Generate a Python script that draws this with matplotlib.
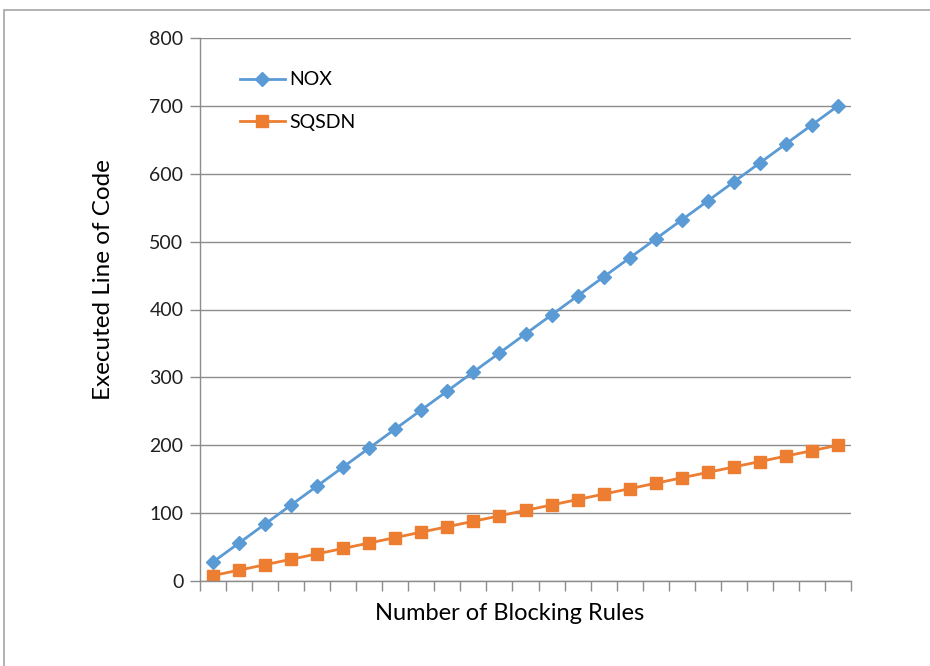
import matplotlib
matplotlib.use("Agg")
import matplotlib.pyplot as plt
from matplotlib.patches import Rectangle

# Executed lines of code per number of blocking rules
rules = list(range(1, 26))
nox = [28, 56, 84, 112, 140, 168, 196, 224, 252, 280, 308, 336, 364,
       392, 420, 448, 476, 504, 532, 560, 588, 616, 644, 672, 700]
sqsdn = [8, 16, 24, 32, 40, 48, 56, 64, 72, 80, 88, 96, 104,
         112, 120, 128, 136, 144, 152, 160, 168, 176, 184, 192, 200]
yticks = [0, 100, 200, 300, 400, 500, 600, 700, 800]

BLUE = "#5B9BD5"
ORANGE = "#ED7D31"
GRID = "#8C8C8C"
FONT = "Lato"

W, H = 930, 666
fig = plt.figure(figsize=(W / 100, H / 100), dpi=100)
fig.patch.set_facecolor("white")

# chart border
fig.patches.append(Rectangle((4 / W, -0.1), 1.2, (H - 10) / H + 0.1,
                             transform=fig.transFigure, fill=False,
                             edgecolor="#A6A6A6", linewidth=1.2))

ax = fig.add_axes([200 / W, 1 - 581 / H, 651 / W, (581 - 38) / H])
x = list(range(len(rules)))
ax.plot(x, nox, color=BLUE, marker="D", markersize=7, linewidth=2,
        label="NOX")
ax.plot(x, sqsdn, color=ORANGE, marker="s", markersize=8.5, linewidth=2,
        label="SQSDN")

ax.set_xlim(-0.5, len(rules) - 0.5)
ax.set_ylim(0, 800)
ax.set_yticks(yticks)
ax.set_yticklabels([str(v) for v in yticks], fontsize=14, family=FONT,
                   color="#202020")
ax.set_xticks([i - 0.5 for i in range(len(rules) + 1)])
ax.set_xticklabels([])
ax.tick_params(axis="x", direction="out", length=7, color=GRID, width=1)
ax.tick_params(axis="y", direction="out", length=7, color=GRID, width=1,
               pad=5)
ax.grid(axis="y", color=GRID, linewidth=1)
ax.set_axisbelow(True)
for side in ("top", "right"):
    ax.spines[side].set_visible(False)
for side in ("left", "bottom"):
    ax.spines[side].set_color(GRID)
    ax.spines[side].set_linewidth(1)

ax.set_ylabel("Executed Line of Code", fontsize=17.5, family=FONT)
ax.yaxis.label.set_va("center")
ax.yaxis.set_label_coords(-(200 - 104) / 651, (581 - 280) / 543)
ax.set_xlabel("Number of Blocking Rules", fontsize=17, family=FONT)
ax.xaxis.label.set_va("center")
ax.xaxis.set_label_coords((510 - 200) / 651, -(613 - 581) / 543)

leg = ax.legend(loc="upper left", bbox_to_anchor=(40 / 651, 1 - 33.4 / 543),
                frameon=False, prop={"family": FONT, "size": 14},
                handlelength=2.3, labelspacing=1.3, handletextpad=0.25,
                borderpad=0, borderaxespad=0)

fig.savefig("out.png", dpi=100, facecolor="white")
